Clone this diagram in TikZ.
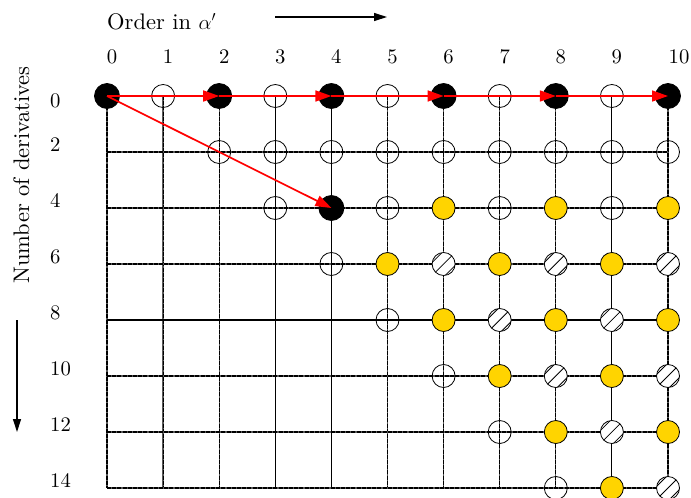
\documentclass[tikz,border=0pt]{standalone}
\usepackage{fontspec}
\setmainfont{lmroman10-regular}[Extension=.otf]
\usetikzlibrary{arrows.meta}
\definecolor{gold}{RGB}{255,212,0}
\begin{document}
\begin{tikzpicture}[x=1pt,y=-1pt,
  griddash/.style={draw=black!65, line width=1.3pt,
     postaction={draw=black, line width=1.2pt, dash pattern=on 4pt off 1.2pt}},
  gridsolid/.style={draw=black, line width=1.1pt},
  dot/.style={circle, inner sep=0pt, minimum size=23pt, draw=black, line width=0.8pt},
  opendot/.style={dot},
  blackdot/.style={dot, minimum size=25pt, fill=black},
  golddot/.style={dot, fill=gold},
  hatchdot/.style={dot, fill=white, path picture={
     \foreach \o in {-6.5,0,6.5}
       \draw[line width=0.8pt] ([shift={(-16pt+\o pt,-16pt-\o pt)}]path picture bounding box.center) -- ++(32pt,32pt);}},
  redarrow/.style={draw=red, line width=1.7pt, -{Triangle[length=16pt,width=11pt]}},
  axisarrow/.style={draw=black, line width=1.2pt, -{Triangle[length=13pt,width=8pt]}},
  numlab/.style={inner sep=0pt, font=\fontsize{20.7}{24}\selectfont},
  axlab/.style={inner sep=0pt, font=\fontsize{22.5}{27}\selectfont}]
\useasboundingbox (0,0) rectangle (691,498);

% grid coordinates
\foreach \c in {0,...,10}
  \foreach \k in {0,...,7}
    \coordinate (p\c-\k) at ({107+56.1*\c},{96+56*\k});

% vertical lines
\foreach \c in {0,1,2,5,6,7,8,10}
  \draw[griddash] (p\c-0) -- (p\c-7);
\foreach \c in {3,4,9}
  \draw[gridsolid] (p\c-0) -- (p\c-7);
% horizontal lines
\foreach \k in {1,2,3,5,6,7}
  \draw[griddash] (p0-\k) -- (p10-\k);
\draw[gridsolid] (p0-4) -- (p10-4);

% row 0
\foreach \c in {0,2,4,6,8,10}
  \node[blackdot] (n\c-0) at (p\c-0) {};
\foreach \c in {1,3,5,7,9}
  \node[opendot] (n\c-0) at (p\c-0) {};
% row 1
\foreach \c in {2,...,10}
  \node[opendot] (n\c-1) at (p\c-1) {};
% row 2
\foreach \c in {3,5,7,9}
  \node[opendot] (n\c-2) at (p\c-2) {};
\node[blackdot] (n4-2) at (p4-2) {};
\foreach \c in {6,8,10}
  \node[golddot] (n\c-2) at (p\c-2) {};
% row 3
\node[opendot] (n4-3) at (p4-3) {};
\foreach \c in {5,7,9} \node[golddot] (n\c-3) at (p\c-3) {};
\foreach \c in {6,8,10} \node[hatchdot] (n\c-3) at (p\c-3) {};
% row 4
\node[opendot] (n5-4) at (p5-4) {};
\foreach \c in {6,8,10} \node[golddot] (n\c-4) at (p\c-4) {};
\foreach \c in {7,9} \node[hatchdot] (n\c-4) at (p\c-4) {};
% row 5
\node[opendot] (n6-5) at (p6-5) {};
\foreach \c in {7,9} \node[golddot] (n\c-5) at (p\c-5) {};
\foreach \c in {8,10} \node[hatchdot] (n\c-5) at (p\c-5) {};
% row 6
\node[opendot] (n7-6) at (p7-6) {};
\foreach \c in {8,10} \node[golddot] (n\c-6) at (p\c-6) {};
\node[hatchdot] (n9-6) at (p9-6) {};
% row 7
\node[opendot] (n8-7) at (p8-7) {};
\node[golddot] (n9-7) at (p9-7) {};
\node[hatchdot] (n10-7) at (p10-7) {};

% red arrows
\draw[redarrow] (n0-0.center) -- (n2-0.center);
\draw[redarrow] (n2-0.center) -- (n4-0.center);
\draw[redarrow] (n4-0.center) -- (n6-0.center);
\draw[redarrow] (n6-0.center) -- (n8-0.center);
\draw[redarrow] (n8-0.center) -- (n10-0.center);
\draw[redarrow] (n0-0.center) -- (n4-2.center);

% column labels
\foreach \c in {0,...,9}
  \node[numlab, anchor=base] (col\c) at ({112+56.1*\c},63) {\c};
\node[numlab, anchor=base] (col10) at (679,63) {10};

% row labels
\node[numlab, anchor=base west] (row0) at (50,107) {0};
\foreach \k/\v in {1/2,2/4,3/6,4/8,5/10,6/12,7/14}
  \node[numlab, anchor=base west] (row\k) at (50,{151.7+56*(\k-1)}) {\v};

% axis labels
\node[axlab, anchor=base west] (xlab) at (107,29) {Order in $\alpha'$};
\coordinate (xa1) at (275,17);
\coordinate (xa2) at (387,17);
\draw[axisarrow] (xa1) -- (xa2);
\node[axlab, rotate=90, anchor=base] (ylab) at (29,175) {Number of derivatives};
\coordinate (ya1) at (17,320);
\coordinate (ya2) at (17,432);
\draw[axisarrow] (ya1) -- (ya2);
\end{tikzpicture}
\end{document}
